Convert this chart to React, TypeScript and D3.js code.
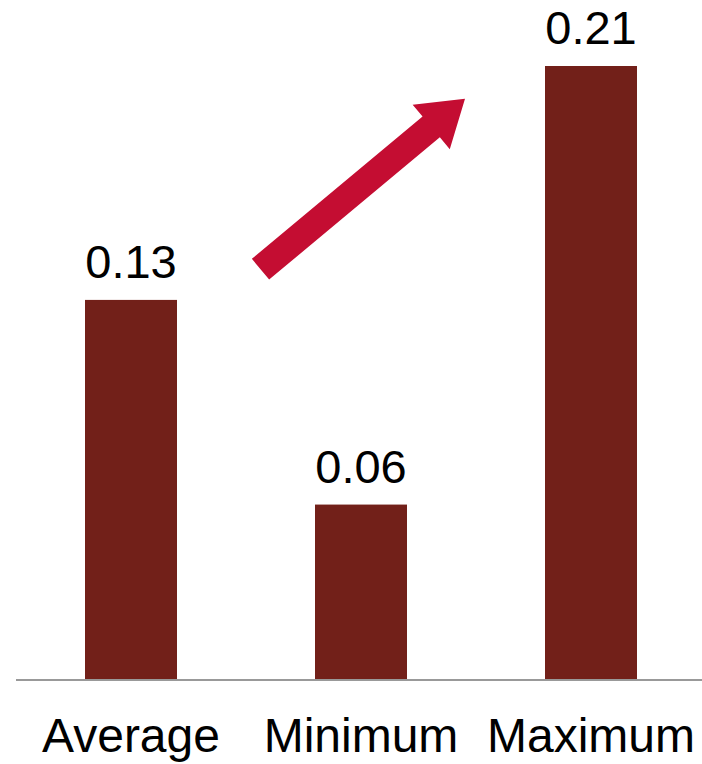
import React from "react";
import * as d3 from "d3";

const categories = ["Average", "Minimum", "Maximum"];
const values = [0.13, 0.06, 0.21];
const valueLabels = ["0.13", "0.06", "0.21"];

const W = 702;
const H = 764;

export default function App() {
  const x = d3
    .scaleBand<string>()
    .domain(categories)
    .range([16, 706])
    .paddingInner(0.6)
    .paddingOuter(0.3);
  const y = d3.scaleLinear().domain([0, 0.21]).range([680, 66]);

  // arrow annotation in data space: from between Average/Minimum up toward Maximum
  const tail: [number, number] = [260.5, y(0.1405)];
  const tip: [number, number] = [465, y(0.1988)];
  const dx = tip[0] - tail[0];
  const dy = tip[1] - tail[1];
  const len = Math.hypot(dx, dy);
  const ux = dx / len, uy = dy / len;
  const nx = -uy, ny = ux;
  const shaftHalf = 13.5;
  const headHalf = 29;
  const headLen = 44;
  const bx = tip[0] - ux * headLen, by = tip[1] - uy * headLen;
  const pts: [number, number][] = [
    [tail[0] + nx * shaftHalf, tail[1] + ny * shaftHalf],
    [bx + nx * shaftHalf, by + ny * shaftHalf],
    [bx + nx * headHalf, by + ny * headHalf],
    tip,
    [bx - nx * headHalf, by - ny * headHalf],
    [bx - nx * shaftHalf, by - ny * shaftHalf],
    [tail[0] - nx * shaftHalf, tail[1] - ny * shaftHalf],
  ];
  const arrowPath = d3.line()(pts) + "Z";

  return (
    <svg
      width={W}
      height={H}
      style={{ position: "absolute", left: 0, top: 0, background: "#fff" }}
      fontFamily="'Liberation Sans', Arial, sans-serif"
    >
      {categories.map((c, i) => (
        <g key={c}>
          <rect
            x={x(c)}
            y={y(values[i])}
            width={x.bandwidth()}
            height={y(0) - y(values[i])}
            fill="#722019"
          />
          <text
            x={(x(c) as number) + x.bandwidth() / 2}
            y={y(values[i]) - 22}
            textAnchor="middle"
            fontSize={47}
            fill="#000"
          >
            {valueLabels[i]}
          </text>
          <text
            x={(x(c) as number) + x.bandwidth() / 2}
            y={752}
            textAnchor="middle"
            fontSize={48}
            fill="#000"
          >
            {c}
          </text>
        </g>
      ))}
      <line x1={16} x2={702} y1={y(0)} y2={y(0)} stroke="#999" strokeWidth={2} />
      <path d={arrowPath} fill="#C40D32" />
    </svg>
  );
}
